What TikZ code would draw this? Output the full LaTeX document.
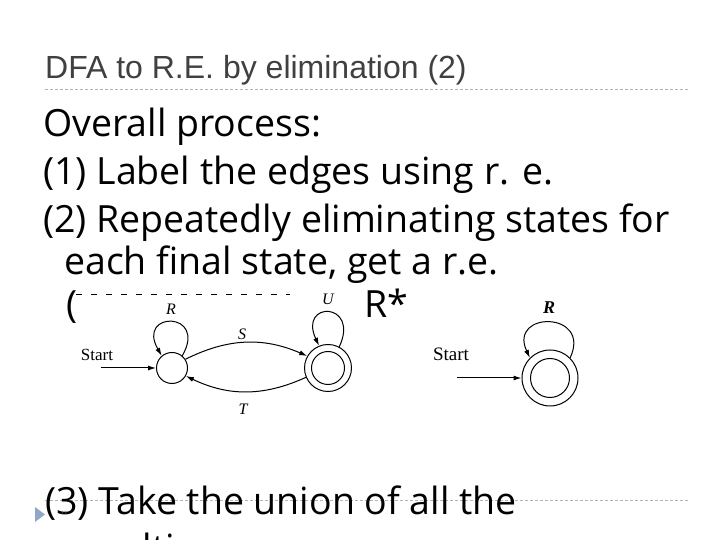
\documentclass[tikz,border=0pt]{standalone}
\usepackage{fontspec}
\setmainfont{Liberation Serif}
\newfontfamily\bodyfont{Open Sans}
\newfontfamily\titlefont{Liberation Sans}
\usetikzlibrary{arrows.meta}
\definecolor{titlegrey}{HTML}{404040}
\definecolor{rulegrey}{HTML}{B4B4B4}
\definecolor{bulletblue}{HTML}{8FA8C8}
\begin{document}
\begin{tikzpicture}[x=1pt,y=1pt,
  bodytext/.style={anchor=base west, inner sep=0pt, font=\bodyfont\fontsize{37.5}{44}\selectfont},
  titletext/.style={anchor=base west, inner sep=0pt, text=titlegrey, font=\titlefont\fontsize{32}{36}\selectfont},
  sepline/.style={rulegrey, line width=0.8pt, dash pattern=on 3pt off 2pt},
  dfastate/.style={circle, draw, line width=1pt, inner sep=0pt},
  edgelbl/.style={font=\itshape\fontsize{16}{18}\selectfont, inner sep=0pt},
  startlbl/.style={font=\fontsize{17}{19}\selectfont, inner sep=0pt},
  tr/.style={line width=1pt, -{Latex[length=8pt,width=5pt]}},
]
\clip (0,0) rectangle (720,540);
\fill[white] (0,0) rectangle (720,540);

% title and rules
\node[titletext] (title) at (45,461) {DFA to R.E. by elimination (2)};
\coordinate (r1a) at (45,450.5);
\coordinate (r1b) at (688,450.5);
\draw[sepline] (r1a) -- (r1b);
\coordinate (r2a) at (45,40);
\coordinate (r2b) at (688,40);
\draw[sepline] (r2a) -- (r2b);

% body text
\node[bodytext] (l1) at (43,403) {Overall process:};
\node[bodytext] (l2) at (43,355) {(1) Label the edges using r. e.};
\node[bodytext] (l3) at (43,307) {(2) Repeatedly eliminating states for};
\node[bodytext] (l4) at (64,265) {each final state, get a r.e.};
\node[bodytext] (l5a) at (66,222) {(};
\node[bodytext] (l5b) at (364,222) {R*};
\node[bodytext] (l6) at (45,25) {(3) Take the union of all the};
\node[bodytext] (l7) at (66,-22) {resulting r.e.};
\fill[bulletblue] (35,33) -- (45,25.5) -- (35,18) -- cycle;
\node[font=\bodyfont\fontsize{6}{7}\selectfont, text=gray, inner sep=0pt] (num) at (64,27) {11};

% remnant tops of covered text
\draw[line width=0.8pt, dash pattern=on 6pt off 9pt] (76,246) -- (290,246);

% left automaton
\node[dfastate, minimum size=31pt] (A) at (172,172) {};
\node[dfastate, minimum size=47pt] (B) at (328,172) {};
\node[dfastate, minimum size=33pt] (Bi) at (328,172) {};
\node[startlbl] (st1) at (97,185) {Start};
\coordinate (s1) at (101,172);
\draw[tr] (s1) -- (A);
\draw[tr] (A.50) .. controls +(60:52) and +(120:52) .. (A.130);
\node[edgelbl] (lR) at (171,231) {R};
\draw[tr] (A.33) to[bend left=25] (B.150);
\node[edgelbl] (lS) at (242,206) {S};
\draw[tr] (B.203) to[bend left=25] (A.-30);
\node[edgelbl] (lT) at (243,131) {T};
\draw[tr] (B.62) .. controls +(65:50) and +(115:50) .. (B.112);
\node[edgelbl] (lU) at (328,241) {U};

% right automaton
\node[dfastate, minimum size=56pt] (C) at (550,162) {};
\node[dfastate, minimum size=39pt] (Ci) at (550,162) {};
\node[startlbl, font=\fontsize{19}{21}\selectfont] (st2) at (451,186) {Start};
\coordinate (s2) at (457,162);
\draw[tr] (s2) -- (C);
\draw[tr] (C.45) .. controls +(65:52) and +(115:52) .. (C.135);
\node[edgelbl, font=\bfseries\itshape\fontsize{18}{20}\selectfont] (lR2) at (549,232) {R};
\end{tikzpicture}
\end{document}
